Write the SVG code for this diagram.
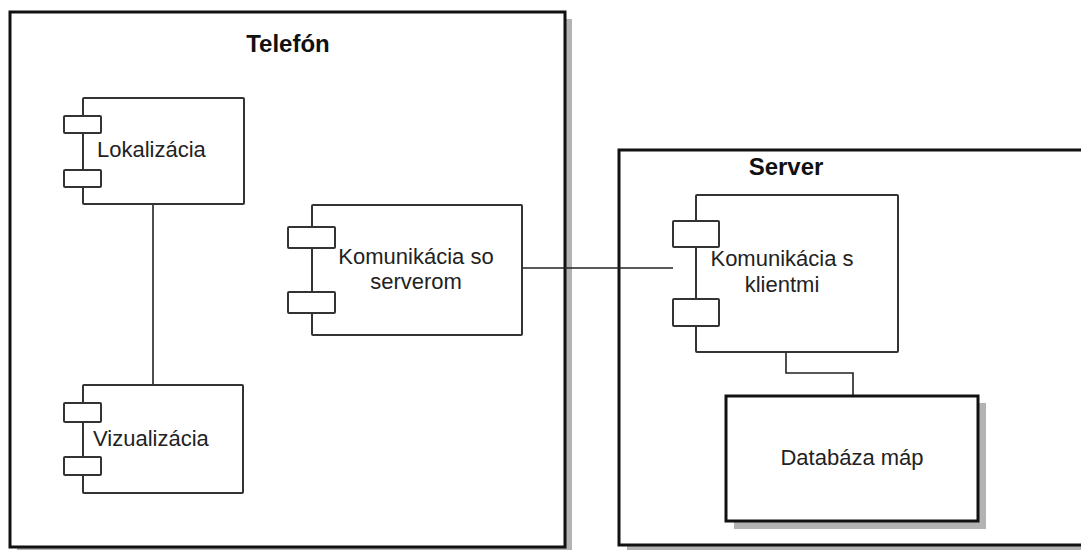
<svg xmlns="http://www.w3.org/2000/svg" width="1081" height="550" viewBox="0 0 1081 550">
<style>
.shadow{fill:#b3b3b3;stroke:none}
.frame{fill:#fff;stroke:#111;stroke-width:3}
.comp{fill:#fff;stroke:#333;stroke-width:2}
.tab{fill:#fff;stroke:#333;stroke-width:2}
.title{font-family:"Liberation Sans",Arial,sans-serif;font-weight:bold;font-size:24px;fill:#111}
.lbl{font-family:"Liberation Sans",Arial,sans-serif;font-size:22px;fill:#222}
.conn{fill:none;stroke:#222;stroke-width:1.6}
</style>
<rect width="1081" height="550" fill="#fff"/>
<g id="telefon">
<rect class="shadow" x="17" y="19" width="555" height="540"/>
<rect class="frame" x="10" y="12" width="555" height="535"/>
<text class="title" x="288" y="52" text-anchor="middle">Telefón</text>
</g>
<g id="server">
<rect class="shadow" x="627" y="157" width="470" height="400"/>
<rect class="frame" x="619" y="150" width="470" height="395"/>
<text class="title" x="786" y="175" text-anchor="middle">Server</text>
</g>
<g id="connectors">
<line class="conn" x1="153" y1="204" x2="153" y2="385"/>
<line class="conn" x1="522" y1="268" x2="673" y2="268"/>
<polyline class="conn" points="786,352 786,373 853,373 853,396"/>
</g>
<g id="lokalizacia">
<rect class="comp" x="83" y="98" width="161" height="106" rx="1"/>
<rect class="tab" x="64" y="116" width="37" height="17" rx="1"/>
<rect class="tab" x="64" y="170" width="37" height="17" rx="1"/>
<text class="lbl" x="97" y="157">Lokalizácia</text>
</g>
<g id="vizualizacia">
<rect class="comp" x="83" y="385" width="160" height="108" rx="1"/>
<rect class="tab" x="64" y="403" width="37" height="19" rx="1"/>
<rect class="tab" x="64" y="457" width="37" height="18" rx="1"/>
<text class="lbl" x="93" y="446">Vizualizácia</text>
</g>
<g id="komunikacia-so-serverom">
<rect class="comp" x="312" y="205" width="210" height="130" rx="1"/>
<rect class="tab" x="288" y="227" width="47" height="21" rx="1"/>
<rect class="tab" x="288" y="292" width="47" height="21" rx="1"/>
<text class="lbl" x="416" y="264" text-anchor="middle">Komunikácia so</text>
<text class="lbl" x="416" y="289" text-anchor="middle">serverom</text>
</g>
<g id="komunikacia-s-klientmi">
<rect class="comp" x="696" y="195" width="202" height="157" rx="1"/>
<rect class="tab" x="673" y="221" width="46" height="26" rx="1"/>
<rect class="tab" x="673" y="299" width="46" height="27" rx="1"/>
<text class="lbl" x="782" y="266" text-anchor="middle">Komunikácia s</text>
<text class="lbl" x="782" y="292" text-anchor="middle">klientmi</text>
</g>
<g id="databaza-map">
<rect class="shadow" x="734" y="403" width="252" height="126"/>
<rect class="frame" x="726" y="396" width="252" height="125"/>
<text class="lbl" x="852" y="465" text-anchor="middle">Databáza máp</text>
</g>
</svg>
